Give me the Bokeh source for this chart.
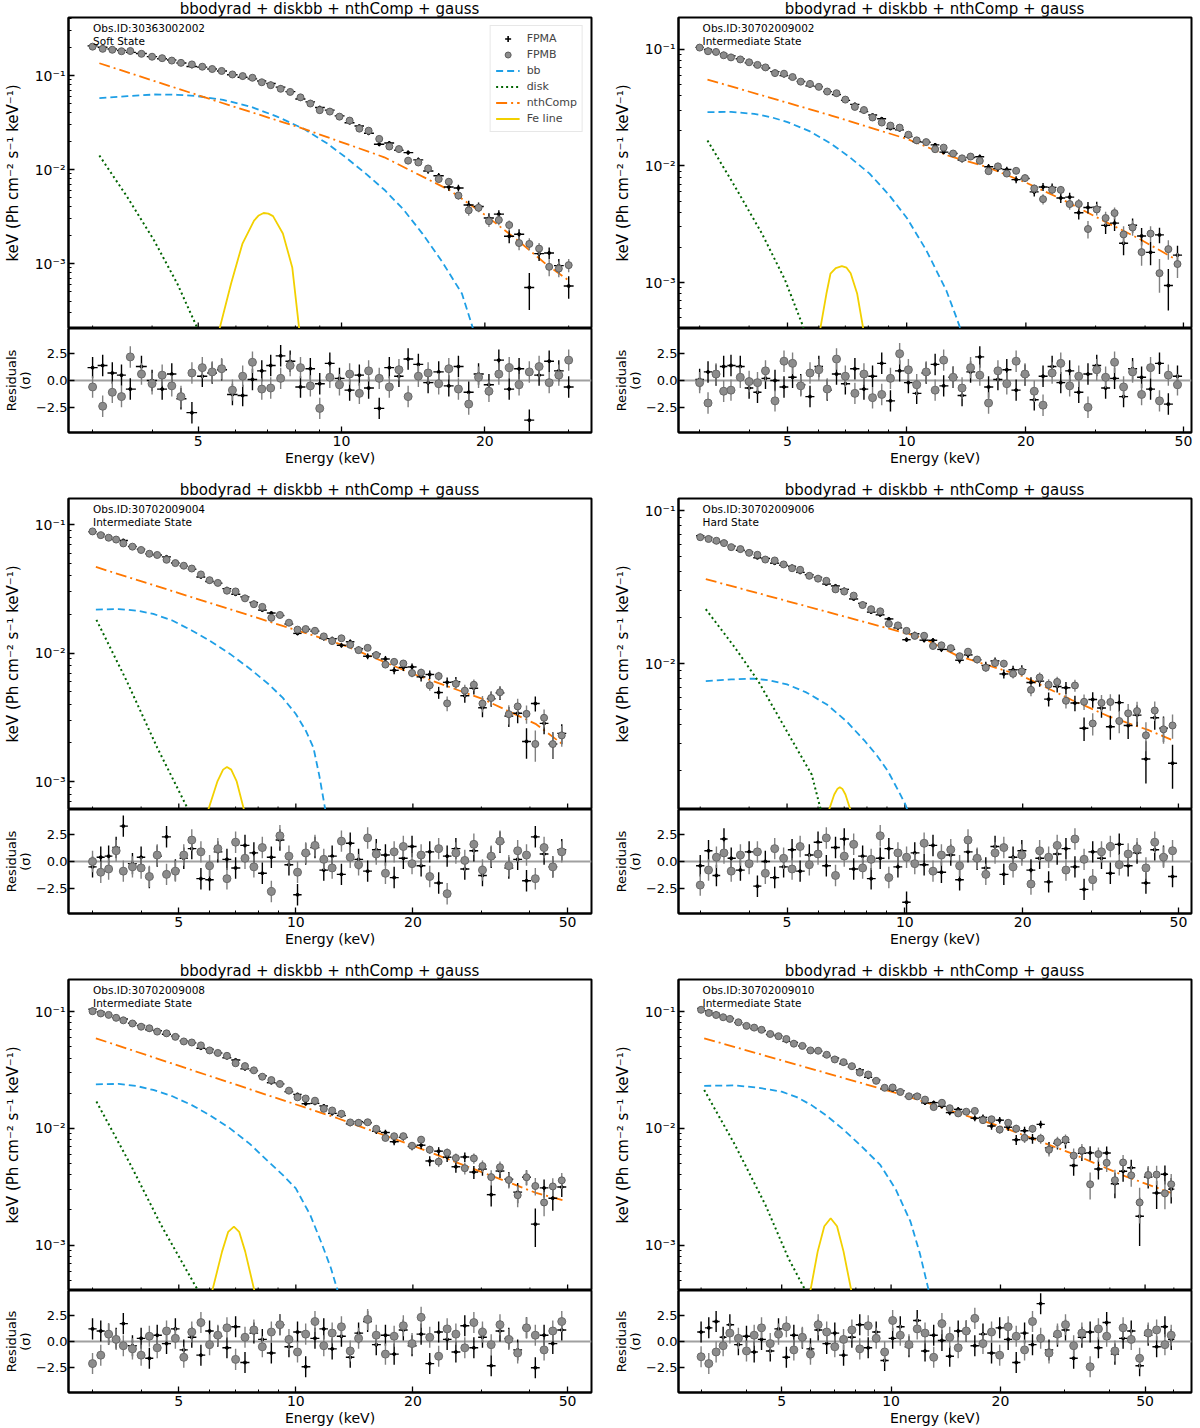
import numpy as np
from bokeh.plotting import figure
from bokeh.layouts import column, row
from bokeh.models import Range1d, FixedTicker, Span, Label, Legend, LegendItem, Div
from bokeh.embed import file_html
from bokeh.resources import INLINE

FONT = "DejaVu Sans"
TITLE = "bbodyrad + diskbb + nthComp + gauss"
YLABEL = "keV (Ph cm⁻² s⁻¹ keV⁻¹)"
OBS_IDS = ["30363002002", "30702009002", "30702009004",
           "30702009006", "30702009008", "30702009010"]
STATES = ["Soft State", "Intermediate State", "Intermediate State",
          "Hard State", "Intermediate State", "Intermediate State"]

XTICKS = [5, 10, 20, 50]
XMINOR = [3, 4, 6, 7, 8, 9, 30, 40, 60]
YTICKS = [0.001, 0.01, 0.1]
YLABELS = {0.001: "10⁻³", 0.01: "10⁻²", 0.1: "10⁻¹"}
RES_TICKS = [-2.5, 0, 2.5]
RES_LABELS = {-2.5: "−2.5", 0: "0.0", 2.5: "2.5"}

C_A = "black"
C_B = "#808080"
C_BB = "#1e9fe6"
C_DISK = "#006400"
C_NTH = "#ff7700"
C_FE = "#f2d000"

# ---------------- energy grids (keV) and fractional 1-sigma errors ----------------
E_SOFT = [3.0, 3.15, 3.3, 3.45, 3.6, 3.8, 4.0, 4.2, 4.4, 4.6, 4.85, 5.1, 5.35, 5.6, 5.9,
          6.2, 6.5, 6.8, 7.1, 7.45, 7.8, 8.2, 8.6, 9.0, 9.45, 9.9, 10.4, 10.9, 11.4, 12.0,
          12.6, 13.2, 13.8, 14.5, 15.2, 16.0, 16.8, 17.6, 18.5, 19.4, 20.4, 21.4, 22.5,
          23.6, 24.8, 26.0, 27.3, 28.6, 30.0]
ERR_SOFT = [0.010, 0.010, 0.010, 0.010, 0.011, 0.011, 0.012, 0.012, 0.012, 0.013,
            0.013, 0.014, 0.014, 0.015, 0.015, 0.016, 0.017, 0.018, 0.019, 0.020,
            0.021, 0.023, 0.025, 0.027, 0.029, 0.031, 0.034, 0.037, 0.040, 0.044,
            0.048, 0.052, 0.057, 0.062, 0.068, 0.075, 0.082, 0.090, 0.098, 0.107,
            0.117, 0.128, 0.140, 0.152, 0.165, 0.180, 0.195, 0.210, 0.230]

E_INT = [3.0, 3.15, 3.3, 3.45, 3.6, 3.8, 4.0, 4.2, 4.4, 4.65, 4.9, 5.15, 5.4, 5.7, 6.0,
         6.3, 6.65, 7.0, 7.4, 7.8, 8.2, 8.65, 9.1, 9.6, 10.1, 10.6, 11.2, 11.8, 12.4, 13.1,
         13.8, 14.5, 15.3, 16.1, 17.0, 17.9, 18.9, 19.9, 21.0, 22.1, 23.3, 24.5, 25.8,
         27.2, 28.7, 30.2, 31.8, 33.5, 35.3, 37.2, 39.2, 41.3, 43.5, 45.8, 48.3]
ERR_INT = [0.012, 0.012, 0.012, 0.013, 0.013, 0.013, 0.014, 0.014, 0.015, 0.015,
           0.016, 0.016, 0.017, 0.018, 0.018, 0.019, 0.020, 0.021, 0.022, 0.023,
           0.024, 0.026, 0.027, 0.029, 0.030, 0.032, 0.034, 0.036, 0.038, 0.041,
           0.044, 0.047, 0.050, 0.054, 0.058, 0.062, 0.066, 0.071, 0.076, 0.082,
           0.088, 0.094, 0.10, 0.11, 0.12, 0.13, 0.14, 0.15, 0.16, 0.17,
           0.18, 0.19, 0.20, 0.21, 0.22]
E_EXT = E_INT + [51.0, 53.8, 56.7, 59.0]
ERR_EXT = ERR_INT + [0.23, 0.24, 0.25, 0.26]

# ---------------- 30363002002 (soft) ----------------
TOTAL_1 = [0.204, 0.197, 0.190, 0.184, 0.178, 0.169, 0.159, 0.152, 0.145, 0.139,
           0.130, 0.122, 0.116, 0.110, 0.104, 0.098, 0.092, 0.086, 0.080, 0.072,
           0.065, 0.057, 0.051, 0.046, 0.041, 0.037, 0.0325, 0.0285, 0.0250, 0.0210,
           0.0181, 0.0157, 0.0136, 0.0116, 0.0098, 0.0081, 0.0068, 0.0057, 0.0047, 0.0038,
           0.0032, 0.0027, 0.0022, 0.00176, 0.00143, 0.00117, 0.00096, 0.00080, 0.00067]
RES_A_1 = [1.2, 1.4, 0.7, 0.5, -0.8, 1.3, 0.0, -0.8, 0.6, -1.7, -3.0, 0.4, 0.7, 1.0, -1.3,
           -1.4, 0.1, 0.9, 1.4, 2.3, 1.8, -0.6, 1.1, -0.3, 1.6, 0.2, -0.9, 0.5, -0.7, -2.6,
           1.2, 0.4, 2.0, 1.5, -0.2, 0.8, -0.5, 1.3, -1.1, 0.6, -0.4, 1.9, -0.8, 1.1, -3.7,
           0.5, 1.8, 0.9, -0.6]
RES_B_1 = [-0.6, -2.4, -1.1, -1.5, 2.2, 0.6, -0.3, 0.5, -0.5, -1.5, 0.7, 1.2, 0.8, 1.1, -0.9,
           0.4, 1.7, -0.8, -0.7, 0.2, 1.4, 1.2, -0.5, -2.6, 0.3, -0.4, 0.6, -1.2, 0.9, 0.2,
           -0.6, 1.0, -1.5, 0.4, 0.7, -0.3, 1.1, -0.8, -2.2, 0.3, -1.0, 0.6, 1.2, -0.4, 0.8,
           1.3, -0.2, 0.5, 1.9]
BB_E_1 = [3.1, 3.55, 4.04, 4.52, 5.0, 5.64, 6.43, 7.32, 8.33, 9.32, 10.2, 11.2, 12.3, 13.5,
          14.8, 16.3, 17.9, 18.8, 19.4]
BB_F_1 = [0.0574, 0.0603, 0.0628, 0.0624, 0.0602, 0.0551, 0.0468, 0.0366, 0.0271, 0.0190,
          0.0135, 0.0092, 0.0061, 0.00375, 0.00207, 0.00103, 0.00048, 0.00022, 0.00012]
DISK_E_1 = [3.1, 3.55, 4.04, 4.52, 4.95, 5.15]
DISK_F_1 = [0.0141, 0.00508, 0.00176, 0.00061, 0.00022, 0.00012]
NTH_E_1 = [3.1, 5.33, 8.33, 12.3, 16.9, 20.0, 23.6, 26.8, 30.0]
NTH_F_1 = [0.135, 0.0556, 0.0271, 0.0135, 0.0060, 0.0033, 0.00172, 0.00100, 0.00066]
FE_E_1 = [5.45, 5.54, 5.86, 6.19, 6.55, 6.70, 6.86, 7.02, 7.18, 7.53, 7.88, 8.15, 8.25]
FE_F_1 = [1.0e-4, 2.0e-4, 6.1e-4, 1.62e-3, 2.86e-3, 3.25e-3, 3.45e-3, 3.4e-3, 3.2e-3,
          2.09e-3, 9.1e-4, 2.0e-4, 1.0e-4]

# ---------------- 30702009002 ----------------
TOTAL_2 = [0.104, 0.099, 0.0945, 0.0903, 0.0865, 0.0818, 0.0777, 0.0739, 0.0692, 0.0645,
           0.0602, 0.0565, 0.0534, 0.0500, 0.0469, 0.0442, 0.0405, 0.0368, 0.0330, 0.0298,
           0.0271, 0.0244, 0.0221, 0.0199, 0.0180, 0.0168, 0.0156, 0.0144, 0.0134, 0.01264,
           0.0120, 0.0114, 0.0108, 0.01018, 0.00943, 0.00877, 0.00812, 0.00755, 0.00694,
           0.0064, 0.00588, 0.00542, 0.00496, 0.00452, 0.00411, 0.00375, 0.00343, 0.00314,
           0.00286, 0.00261, 0.00238, 0.00214, 0.00194, 0.00175, 0.00158]
RES_A_2 = [0.1, 0.8, 0.5, 1.3, 1.4, 1.3, -0.7, -1.1, 0.2, 0.0, -0.6, 0.3, -0.4, -1.5, 1.3,
           -0.9, 0.6, -0.3, 1.1, -0.8, 0.4, 1.6, -1.9, 0.9, -0.2, -1.2, 0.7, 1.5, -0.5, 0.3,
           -1.4, 0.8, 2.2, -0.6, 0.1, 1.0, -0.9, 0.5, -1.8, 0.4, 1.3, -0.2, 0.9, -1.1, 0.6,
           1.4, -0.7, 0.2, -1.5, 1.1, 0.3, -0.8, 1.6, -2.2, 0.4]
RES_B_2 = [-0.2, -2.1, 0.6, -1.0, -0.9, 0.3, -0.1, -0.2, 0.9, -1.9, 1.8, 1.6, -0.5, 0.7, 1.0,
           -0.8, 2.0, 0.4, -1.2, 0.6, -1.6, -1.3, 0.2, 2.5, 1.0, -0.4, 0.8, -0.9, 1.9, 0.3,
           -0.7, 1.2, 0.5, -2.1, 0.9, -0.3, 1.8, 0.6, -1.0, -2.3, 0.7, 1.6, -0.5, 0.4, -2.5,
           1.0, 0.3, 1.7, -0.6, 0.8, -1.3, 1.2, -1.9, 0.5, -0.4]
BB_E_2 = [3.14, 3.6, 4.12, 4.55, 5.0, 5.7, 6.45, 7.2, 8.06, 9.0, 10.0, 11.2, 12.6, 13.3, 14.0]
BB_F_2 = [0.0290, 0.0291, 0.0280, 0.0262, 0.0238, 0.0198, 0.0155, 0.0118, 0.0086, 0.0057,
          0.0036, 0.0019, 0.00085, 0.00052, 0.00032]
DISK_E_2 = [3.14, 3.69, 4.31, 4.93, 5.46, 5.7]
DISK_F_2 = [0.01656, 0.0066, 0.00263, 0.00105, 0.00043, 0.00025]
NTH_E_2 = [3.14, 6.45, 10.0, 12.7, 15.8, 20.0, 24.6, 30.8, 38.6, 47.2]
NTH_F_2 = [0.0552, 0.0271, 0.0171, 0.0123, 0.0099, 0.0072, 0.0052, 0.0035, 0.00238, 0.00162]
FE_E_2 = [5.95, 6.05, 6.27, 6.42, 6.62, 6.86, 7.05, 7.22, 7.5, 7.77, 7.9]
FE_F_2 = [2.0e-4, 4.0e-4, 8.0e-4, 1.19e-3, 1.33e-3, 1.38e-3, 1.34e-3, 1.2e-3, 8.0e-4,
          4.0e-4, 2.0e-4]

# ---------------- 30702009004 ----------------
TOTAL_3 = [0.0885, 0.0838, 0.0797, 0.0755, 0.0722, 0.0678, 0.0640, 0.0605, 0.0575, 0.0542,
           0.0509, 0.0474, 0.0440, 0.0403, 0.0372, 0.0344, 0.0316, 0.0291, 0.0265, 0.0243,
           0.0222, 0.0203, 0.0186, 0.0170, 0.0157, 0.0150, 0.0142, 0.0134, 0.0127, 0.0121,
           0.0114, 0.0107, 0.0099, 0.0093, 0.0087, 0.0081, 0.0076, 0.0071, 0.00674, 0.00635,
           0.00599, 0.00566, 0.00534, 0.00505, 0.00476, 0.00452, 0.00418, 0.00386, 0.00358,
           0.00329, 0.00304, 0.00282, 0.00249, 0.00219, 0.00191]
RES_A_3 = [-0.5, 0.4, 0.5, 1.3, 3.3, -0.2, 0.4, -1.5, 0.5, 2.3, -0.8, 0.3, 1.2, -1.6, -1.7,
           0.9, 0.2, -0.6, 1.5, 0.8, -1.1, 0.4, 2.0, -0.3, -3.1, 0.7, 1.3, -0.8, 0.5, -1.2,
           1.7, 0.2, -0.9, 1.1, 0.6, -1.5, 0.3, 1.4, -0.4, 0.9, -2.0, 0.5, 1.2, -0.7, 1.0,
           -1.3, 0.4, 1.8, -0.6, 0.2, -1.8, 2.3, 0.7, -0.5, 1.1]
RES_B_3 = [0.0, -1.0, -0.7, 1.0, -0.9, -0.5, -0.6, -1.4, 0.6, -1.2, -0.9, 0.6, 2.0, 0.9, -0.4,
           1.2, -1.6, 1.8, 0.3, -0.5, 1.3, -2.8, 2.4, 0.5, -1.0, 0.8, 1.5, 0.2, -0.6, 1.9,
           0.4, -0.3, 2.2, 0.7, -1.1, 0.9, 1.4, -0.2, 0.6, -1.4, 1.2, -3.0, 0.8, 0.1, 1.6,
           -0.8, 0.5, 1.9, -0.4, 1.0, 0.6, -1.6, 1.3, -0.5, 0.9]
BB_E_3 = [3.06, 3.5, 3.9, 4.3, 4.8, 5.4, 6.0, 6.77, 7.6, 8.5, 9.25, 10.0, 10.6, 11.1, 11.5,
          11.9, 12.1]
BB_F_3 = [0.0218, 0.0220, 0.0214, 0.0202, 0.0180, 0.0150, 0.0125, 0.00986, 0.0076, 0.00575,
          0.0045, 0.00336, 0.0025, 0.00184, 0.0011, 0.00061, 0.00045]
DISK_E_3 = [3.07, 3.67, 4.40, 5.28, 5.5]
DISK_F_3 = [0.01815, 0.0061, 0.00184, 0.00061, 0.0004]
NTH_E_3 = [3.06, 5.0, 11.1, 13.4, 20.0, 30.2, 41.5, 49.1]
NTH_F_3 = [0.0468, 0.0293, 0.0137, 0.0114, 0.0069, 0.0044, 0.0028, 0.0019]
FE_E_3 = [5.85, 5.96, 6.29, 6.5, 6.65, 6.82, 7.04, 7.35, 7.5]
FE_F_3 = [3.0e-4, 6.1e-4, 1.01e-3, 1.24e-3, 1.30e-3, 1.24e-3, 1.01e-3, 6.1e-4, 3.0e-4]

# ---------------- 30702009006 (hard) ----------------
TOTAL_4 = [0.0688, 0.0659, 0.0632, 0.0607, 0.0584, 0.0556, 0.0531, 0.0508, 0.0487, 0.0464,
           0.0443, 0.0425, 0.0401, 0.0377, 0.0355, 0.0334, 0.0314, 0.0293, 0.0269, 0.0245,
           0.0226, 0.0207, 0.0190, 0.0174, 0.0162, 0.0153, 0.0144, 0.0135, 0.0129, 0.0121,
           0.0114, 0.01096, 0.0105, 0.01007, 0.00965, 0.00927, 0.00889, 0.00855, 0.00804,
           0.00752, 0.00705, 0.00667, 0.00623, 0.00586, 0.00551, 0.00523, 0.00493, 0.00465,
           0.00444, 0.00424, 0.00404, 0.00385, 0.00364, 0.00344, 0.00324]
RES_A_4 = [-0.4, 1.0, -1.3, 2.1, 0.3, -0.8, 0.9, -2.3, 0.0, -1.5, -0.5, 1.1, -0.9, 0.6, 1.8,
           -0.4, 1.3, 2.1, -0.7, 0.5, -1.6, 0.3, 1.2, -0.5, -3.8, 0.8, -0.3, 1.5, -1.0, 0.6,
           -1.7, 0.9, 0.2, -0.6, 1.4, -1.2, 0.4, 1.0, -0.8, 0.3, -1.9, 0.7, 1.2, -0.5, -2.6,
           0.9, 0.3, -1.1, 1.6, -0.4, 0.8, -2.0, 1.1, 0.5, -1.4]
RES_B_4 = [-2.2, -0.8, 0.4, 0.8, -0.9, 0.6, -0.2, 0.9, -1.1, 1.2, 0.3, -0.7, 1.4, -0.3, 0.7,
           2.2, -1.3, 0.5, 1.6, -0.6, 0.2, 2.4, -1.5, 0.8, 0.4, -0.2, 1.7, -0.9, 0.6, 1.1,
           -0.4, 2.0, 0.3, -1.2, 0.8, 1.3, -0.5, 0.6, -2.1, 1.0, 0.4, 1.5, -0.8, 2.1, 0.2,
           -1.7, 0.9, 1.4, -0.3, 0.7, 1.2, -0.6, 1.8, 0.4, 1.0]
BB_E_4 = [3.10, 3.6, 4.1, 4.5, 5.0, 5.6, 6.32, 7.1, 7.91, 8.5, 9.06, 9.6, 10.04, 10.3]
BB_F_4 = [0.00771, 0.0079, 0.0080, 0.0078, 0.00733, 0.0065, 0.00542, 0.0042, 0.00312,
          0.0025, 0.00198, 0.0015, 0.0012, 0.0010]
DISK_E_4 = [3.10, 3.68, 4.22, 5.05, 5.78, 6.1, 6.2]
DISK_F_4 = [0.0227, 0.01274, 0.00771, 0.00345, 0.00189, 0.00111, 0.0009]
NTH_E_4 = [3.10, 11.1, 13.6, 20.0, 26.7, 33.4, 41.8, 47.9]
NTH_F_4 = [0.0357, 0.01479, 0.0113, 0.0083, 0.0058, 0.0045, 0.0037, 0.0032]
FE_E_4 = [6.3, 6.4, 6.6, 6.72, 6.82, 6.93, 7.05, 7.26, 7.35]
FE_F_4 = [9.0e-4, 1.11e-3, 1.4e-3, 1.52e-3, 1.56e-3, 1.52e-3, 1.4e-3, 1.11e-3, 9.0e-4]

# ---------------- 30702009008 ----------------
TOTAL_5 = [0.1032, 0.0978, 0.0928, 0.0881, 0.0845, 0.0797, 0.0755, 0.0714, 0.0679, 0.0641,
           0.0604, 0.0568, 0.0535, 0.0497, 0.0467, 0.0437, 0.0407, 0.0374, 0.0338, 0.0306,
           0.0280, 0.0253, 0.0230, 0.0209, 0.0190, 0.0176, 0.0162, 0.0149, 0.0138, 0.0126,
           0.0117, 0.0110, 0.0102, 0.0096, 0.0089, 0.0083, 0.0078, 0.0072, 0.00681, 0.00635,
           0.00591, 0.00556, 0.00521, 0.00488, 0.00455, 0.00426, 0.00399, 0.00375, 0.00350,
           0.00329, 0.00309, 0.00288, 0.00276, 0.00263, 0.00253]
RES_A_5 = [1.2, 1.0, 0.7, 0.3, 1.7, -0.4, 0.3, -1.6, 0.6, -0.2, 1.2, -0.8, 0.4, -1.3, 1.0,
           0.5, -0.6, 1.4, -2.0, 0.8, 0.2, -1.1, 1.6, -0.5, 0.9, -2.4, 0.3, 1.2, -0.7, 0.5,
           -1.5, 0.8, 1.9, -0.3, 0.6, -1.2, 1.1, -0.4, 0.7, -2.1, 0.9, 0.2, -1.0, 1.5, -0.6,
           0.4, -2.3, 1.0, 0.3, -0.8, 1.3, -2.5, 0.6, -0.2, 1.1]
RES_B_5 = [-2.1, -1.3, 0.7, 0.2, -0.4, -0.7, -1.3, 0.5, -0.6, 1.0, 0.3, -1.5, 0.9, 1.8, -0.3,
           0.6, 1.3, -1.7, 0.4, 1.1, -0.5, 0.9, 1.6, 0.2, -1.0, 0.7, 1.9, -0.4, 0.8, 1.4,
           -0.9, 0.3, 2.1, 0.6, -1.2, 0.5, 1.5, -0.2, 2.3, 0.4, -1.4, 1.2, 0.7, -0.6, 1.8,
           0.9, -0.3, 1.6, 0.2, -1.1, 1.3, 0.6, -0.8, 1.0, 1.9]
BB_E_5 = [3.06, 3.5, 3.9, 4.3, 4.8, 5.4, 6.0, 6.77, 7.6, 8.5, 9.25, 10.0, 10.9, 11.7, 12.3,
          12.8, 13.2]
BB_F_5 = [0.0238, 0.0240, 0.0230, 0.0213, 0.0189, 0.0158, 0.0130, 0.0100, 0.0074, 0.00519,
          0.0040, 0.00306, 0.0018, 0.0010, 0.00064, 0.00041, 0.0003]
DISK_E_5 = [3.07, 3.76, 4.5, 5.6, 5.8]
DISK_F_5 = [0.01694, 0.00486, 0.00149, 0.00041, 0.0003]
NTH_E_5 = [3.06, 12.8, 20.0, 30.2, 41.5, 49.1]
NTH_F_5 = [0.059, 0.0122, 0.0071, 0.0042, 0.0028, 0.0024]
FE_E_5 = [6.0, 6.10, 6.46, 6.7, 6.93, 7.15, 7.41, 7.82, 7.95]
FE_F_5 = [3.0e-4, 4.1e-4, 8.8e-4, 1.3e-3, 1.44e-3, 1.3e-3, 8.8e-4, 4.1e-4, 3.0e-4]

# ---------------- 30702009010 ----------------
TOTAL_6 = [0.1053, 0.0997, 0.0945, 0.0898, 0.0856, 0.0806, 0.0763, 0.0722, 0.0684, 0.0644,
           0.0608, 0.0569, 0.0538, 0.0504, 0.0475, 0.0448, 0.0419, 0.0393, 0.0367, 0.0332,
           0.0305, 0.0278, 0.0253, 0.0229, 0.0211, 0.0201, 0.0190, 0.0180, 0.0171, 0.0162,
           0.0154, 0.0146, 0.01384, 0.01317, 0.01250, 0.01189, 0.01129, 0.01075, 0.01008,
           0.00954, 0.00892, 0.00841, 0.00795, 0.00746, 0.00702, 0.00663, 0.00619, 0.00577,
           0.00539, 0.00500, 0.00465, 0.00434, 0.00405, 0.00380, 0.00358, 0.00337, 0.00318,
           0.00300, 0.00287]
RES_A_6 = [0.9, 1.3, 1.9, 0.4, 1.6, -0.3, 0.5, -1.0, 0.2, -0.9, 1.2, -1.5, 0.6, 0.3, -0.7,
           1.1, -0.2, 0.8, -1.3, 0.4, 1.6, -0.6, 0.9, -1.8, 0.3, 1.4, -0.5, 2.0, -0.9, 0.6,
           0.1, -1.4, 1.0, 1.0, -0.4, 0.7, -1.1, 1.3, 0.2, -2.0, 0.8, -0.3, 3.6, -0.8, 0.5,
           1.1, -1.6, 0.4, 0.9, -0.6, 1.8, -1.2, 0.3, 1.0, -2.3, 0.6, -0.5, 1.4, 0.2]
RES_B_6 = [-1.45, -2.1, -1.0, -0.4, 0.8, 0.3, -0.9, 0.6, 1.3, -0.2, 0.7, 1.4, -0.8, 0.4, -1.2,
           1.6, 0.9, -0.5, 0.2, 1.1, -0.7, 1.5, 0.3, -1.0, 2.0, 0.6, -0.3, 1.2, 0.8, -1.5,
           1.7, 0.4, -0.6, 1.0, 2.2, -0.2, 0.9, -1.3, 1.4, 0.5, -0.8, 1.9, 0.3, -1.1, 0.7,
           1.6, -0.4, 0.8, -2.4, 1.2, 0.5, -0.9, 1.3, 0.2, -1.6, 0.8, 1.1, -0.3, 0.6]
BB_E_6 = [3.06, 3.72, 4.3, 5.0, 5.5, 6.04, 6.65, 7.33, 8.3, 9.34, 10.3, 11.3, 12.0, 12.6, 13.0]
BB_F_6 = [0.0231, 0.0233, 0.0223, 0.0206, 0.0185, 0.0158, 0.0128, 0.0100, 0.0070, 0.00486,
          0.0030, 0.0016, 0.00085, 0.00045, 0.0003]
DISK_E_6 = [3.06, 3.72, 4.51, 5.22, 5.81, 6.0]
DISK_F_6 = [0.0213, 0.0072, 0.00221, 0.00077, 0.00041, 0.0003]
NTH_E_6 = [3.06, 10.8, 15.2, 20.0, 31.4, 44.0, 58.9]
NTH_F_6 = [0.059, 0.0193, 0.0136, 0.0104, 0.0061, 0.0039, 0.0028]
FE_E_6 = [5.9, 6.0, 6.28, 6.55, 6.82, 7.1, 7.4, 7.77, 7.9]
FE_F_6 = [3.0e-4, 4.1e-4, 8.8e-4, 1.45e-3, 1.7e-3, 1.45e-3, 8.8e-4, 4.1e-4, 3.0e-4]

PANELS = [
    dict(E=E_SOFT, err=ERR_SOFT, total=TOTAL_1, ra=RES_A_1, rb=RES_B_1,
         bb=(BB_E_1, BB_F_1), disk=(DISK_E_1, DISK_F_1), nth=(NTH_E_1, NTH_F_1), fe=(FE_E_1, FE_F_1),
         xr=(2.67, 33.5), yr=(2.04e-4, 0.414)),
    dict(E=E_INT, err=ERR_INT, total=TOTAL_2, ra=RES_A_2, rb=RES_B_2,
         bb=(BB_E_2, BB_F_2), disk=(DISK_E_2, DISK_F_2), nth=(NTH_E_2, NTH_F_2), fe=(FE_E_2, FE_F_2),
         xr=(2.653, 52.4), yr=(4.03e-4, 0.188)),
    dict(E=E_INT, err=ERR_INT, total=TOTAL_3, ra=RES_A_3, rb=RES_B_3,
         bb=(BB_E_3, BB_F_3), disk=(DISK_E_3, DISK_F_3), nth=(NTH_E_3, NTH_F_3), fe=(FE_E_3, FE_F_3),
         xr=(2.602, 57.6), yr=(6.07e-4, 0.1596)),
    dict(E=E_INT, err=ERR_INT, total=TOTAL_4, ra=RES_A_4, rb=RES_B_4,
         bb=(BB_E_4, BB_F_4), disk=(DISK_E_4, DISK_F_4), nth=(NTH_E_4, NTH_F_4), fe=(FE_E_4, FE_F_4),
         xr=(2.64, 54.0), yr=(1.118e-3, 0.1199)),
    dict(E=E_INT, err=ERR_INT, total=TOTAL_5, ra=RES_A_5, rb=RES_B_5,
         bb=(BB_E_5, BB_F_5), disk=(DISK_E_5, DISK_F_5), nth=(NTH_E_5, NTH_F_5), fe=(FE_E_5, FE_F_5),
         xr=(2.602, 57.6), yr=(4.09e-4, 0.188)),
    dict(E=E_EXT, err=ERR_EXT, total=TOTAL_6, ra=RES_A_6, rb=RES_B_6,
         bb=(BB_E_6, BB_F_6), disk=(DISK_E_6, DISK_F_6), nth=(NTH_E_6, NTH_F_6), fe=(FE_E_6, FE_F_6),
         xr=(2.60, 67.1), yr=(4.09e-4, 0.188)),
]

YMINOR = [m * 10.0 ** k for k in range(-5, 1) for m in range(2, 10)]
FRAME_H = 311          # height of every spectrum frame in px
RES_H = 104            # height of every residual frame in px
TITLE_H = 16           # strip above each spectrum holding the model name


def bin_edges(E):
    """Lower/upper edges of each energy bin (geometric midpoints between bins)."""
    E = np.asarray(E, float)
    mid = np.sqrt(E[1:] * E[:-1])
    return np.r_[E[0] ** 2 / mid[0], mid], np.r_[mid, E[-1] ** 2 / mid[-1]]


def log_frac(lo, hi, f):
    return 10 ** (np.log10(lo) + f * (np.log10(hi) - np.log10(lo)))


def text(p, x, y, s, size="14px", align="left", baseline="top"):
    p.add_layout(Label(x=x, y=y, text=s, text_font=FONT, text_font_size=size,
                       text_color="black", text_align=align, text_baseline=baseline))


def style_axis(ax):
    ax.major_label_text_font = FONT
    ax.major_label_text_font_size = "14px"
    ax.major_label_text_color = "black"
    ax.major_tick_in = 6
    ax.major_tick_out = 0
    ax.minor_tick_in = 3
    ax.minor_tick_out = 0
    ax.major_tick_line_width = 1.3
    ax.minor_tick_line_width = 1
    ax.major_tick_line_color = "black"
    ax.minor_tick_line_color = "black"
    ax.axis_line_width = 2
    ax.axis_line_color = "black"
    ax.axis_label_text_font = FONT
    ax.axis_label_text_font_style = "normal"
    ax.axis_label_text_font_size = "14px"
    ax.axis_label_text_color = "black"


def base_fig(height, left, top, bottom, x_range, y_range, y_type):
    p = figure(width=600, height=height, x_axis_type="log", y_axis_type=y_type,
               x_range=x_range, y_range=y_range,
               output_backend="svg", toolbar_location=None,
               min_border_left=left, min_border_right=9,
               min_border_top=top, min_border_bottom=bottom,
               background_fill_color="white", border_fill_color="white")
    p.grid.visible = False
    p.outline_line_color = "black"
    p.outline_line_width = 2
    p.outline_line_alpha = 1
    style_axis(p.xaxis[0])
    style_axis(p.yaxis[0])
    p.xaxis.ticker = FixedTicker(ticks=XTICKS, minor_ticks=XMINOR)
    p.xaxis.major_label_overrides = {t: str(t) for t in XTICKS}
    return p


def title_strip(c):
    left = 68 if c == 0 else 78
    fw = 523 if c == 0 else 513
    html = (f'<div style="margin-left:{left}px;width:{fw}px;text-align:center;'
            f"font-family:'DejaVu Sans';font-size:15px;line-height:15px;padding-top:1.5px;"
            f'color:black;white-space:nowrap;">{TITLE}</div>')
    return Div(text=html, width=600, height=TITLE_H, margin=(0, 0, 0, 0))


def main_fig(k, c):
    d = PANELS[k]
    left = 68 if c == 0 else 78
    xr, yr = d["xr"], d["yr"]
    p = base_fig(FRAME_H + 1, left, 1, 0, Range1d(*xr), Range1d(*yr), "log")

    # energy axis of the spectrum frame: inward ticks only (labels sit under the residuals)
    p.xaxis.visible = False
    for ticks, h, w in ((XTICKS, 6, 1.3), (XMINOR, 3, 1.0)):
        xs = [t for t in ticks if xr[0] < t < xr[1]]
        p.segment(x0=xs, y0=[yr[0]] * len(xs), x1=xs,
                  y1=[log_frac(*yr, h / FRAME_H)] * len(xs),
                  line_color="black", line_width=w)

    p.yaxis.ticker = FixedTicker(ticks=YTICKS, minor_ticks=YMINOR)
    p.yaxis.major_label_overrides = YLABELS
    p.yaxis.major_label_standoff = 3
    p.yaxis.axis_label = YLABEL
    p.yaxis.axis_label_text_font_size = "15px"
    p.yaxis.axis_label_standoff = 10

    # model components
    r_bb = p.line(*d["bb"], line_color=C_BB, line_width=1.8, line_dash="7 4")
    r_disk = p.line(*d["disk"], line_color=C_DISK, line_width=2, line_dash="2 3")
    r_nth = p.line(*d["nth"], line_color=C_NTH, line_width=1.8, line_dash="11 4 2 4")
    r_fe = p.line(*d["fe"], line_color=C_FE, line_width=1.8)

    # unfolded spectra: FPMA and FPMB
    E = np.asarray(d["E"], float)
    m = np.asarray(d["total"], float)
    s = np.asarray(d["err"], float) * m
    lo_e, hi_e = bin_edges(E)
    for res, col in ((d["ra"], C_A), (d["rb"], C_B)):
        f = m + np.asarray(res, float) * s
        lo = np.clip(f - s, 1e-7, None)
        p.segment(x0=E, y0=lo, x1=E, y1=f + s, line_color=col, line_width=1.4)
        if col == C_A:
            p.segment(x0=lo_e, y0=f, x1=hi_e, y1=f, line_color=col, line_width=1.4)
            p.scatter(E, f, size=3, color=col)
        else:
            p.scatter(E, f, marker="circle", size=7, fill_color="#8c8c8c",
                      line_color="#5e5e5e", line_width=1)

    xl = log_frac(*xr, 0.047)
    text(p, xl, log_frac(*yr, 0.985), "Obs.ID:" + OBS_IDS[k], size="10.5px")
    text(p, xl, log_frac(*yr, 0.944), STATES[k], size="10.5px")

    if k == 0:
        # legend swatches for the two detectors, parked outside the frame
        px, py = [xr[0] / 10], [yr[0] / 10]
        leg_a = p.scatter(px, py, marker="cross", size=13, line_color=C_A, line_width=1.6)
        leg_b1 = p.scatter(px, py, marker="cross", size=14, line_color=C_B, line_width=1.6)
        leg_b2 = p.scatter(px, py, marker="circle", size=7, fill_color="#8c8c8c",
                           line_color="#5e5e5e")
        legend = Legend(items=[
            LegendItem(label="FPMA", renderers=[leg_a]),
            LegendItem(label="FPMB", renderers=[leg_b1, leg_b2]),
            LegendItem(label="bb", renderers=[r_bb]),
            LegendItem(label="disk", renderers=[r_disk]),
            LegendItem(label="nthComp", renderers=[r_nth]),
            LegendItem(label="Fe line", renderers=[r_fe]),
        ], location="top_right")
        legend.label_text_font = FONT
        legend.label_text_font_size = "11px"
        legend.label_height = 15
        legend.glyph_height = 15
        legend.glyph_width = 24
        legend.label_standoff = 7
        legend.spacing = 1
        legend.padding = 5
        legend.margin = 8
        legend.border_line_color = "#d0d0d0"
        legend.border_line_width = 1
        legend.background_fill_alpha = 0.85
        p.add_layout(legend)
    return p


def resid_fig(k, c, x_range, bottom):
    d = PANELS[k]
    left = 68 if c == 0 else 78
    p = base_fig(RES_H + bottom, left, 0, bottom, x_range, Range1d(-4.85, 4.85), "linear")
    p.xaxis.axis_label = "Energy (keV)"
    p.xaxis.major_label_standoff = 3
    p.xaxis.axis_label_standoff = 1
    p.yaxis.ticker = FixedTicker(ticks=RES_TICKS)
    p.yaxis.major_label_overrides = RES_LABELS
    p.yaxis.major_label_text_font_size = "13px"
    p.yaxis.major_label_standoff = 1
    p.yaxis.axis_label = "Residuals\n(σ)"
    p.yaxis.axis_label_text_font_size = "13px"
    p.yaxis.axis_label_text_line_height = 0.9
    p.yaxis.axis_label_standoff = 0
    p.add_layout(Span(location=0, dimension="width", line_color="#a0a0a0",
                      line_width=2, level="underlay"))

    E = np.asarray(d["E"], float)
    lo_e, hi_e = bin_edges(E)
    ra = np.asarray(d["ra"], float)
    rb = np.asarray(d["rb"], float)
    p.segment(x0=E, y0=ra - 1, x1=E, y1=ra + 1, line_color=C_A, line_width=1.4)
    p.segment(x0=lo_e, y0=ra, x1=hi_e, y1=ra, line_color=C_A, line_width=1.4)
    p.scatter(E, ra, size=3, color=C_A)
    p.segment(x0=E, y0=rb - 1, x1=E, y1=rb + 1, line_color=C_B, line_width=1.4)
    p.scatter(E, rb, marker="circle", size=8, fill_color="#8c8c8c",
              line_color="#6a6a6a", line_width=1)
    return p


rows = []
for r in range(3):
    cols = []
    for c in range(2):
        k = 2 * r + c
        top = main_fig(k, c)
        bot = resid_fig(k, c, top.x_range, 49 if r < 2 else 34)
        cols.append(column(title_strip(c), top, bot))
    rows.append(row(*cols))

layout = column(*rows)
open("out.html", "w").write(file_html(layout, INLINE, "NuSTAR spectra"))
